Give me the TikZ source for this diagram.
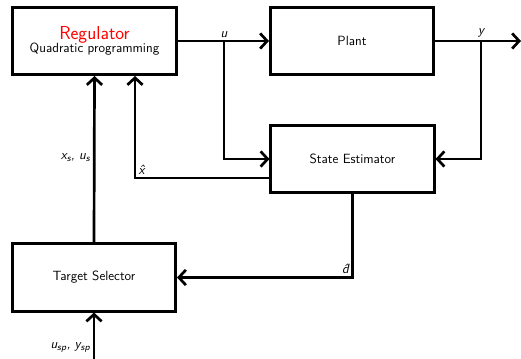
\documentclass[tikz,border=0pt]{standalone}
\usepackage{amsmath}
\usepackage{xcolor}
\usetikzlibrary{arrows.meta}
\tikzset{
  blk/.style={draw, line width=2.3pt, minimum width=4.9cm, minimum height=2.02cm, align=center, font=\sffamily\fontsize{11.4}{13}\selectfont},
  arr/.style={line width=2.3pt, -{Straight Barb[length=6pt,width=13pt,line width=2.3pt]}},
  lbl/.style={font=\sffamily\fontsize{11.4}{13}\selectfont\itshape, inner sep=3pt}
}

\begin{document}
\begin{tikzpicture}
	\useasboundingbox (0,0) rectangle (15.63,10.77);

	% blocks
	\node[blk] (reg) at (2.835,9.54) {{\fontsize{16}{18}\selectfont\color{red}Regulator}\\[-2pt]Quadratic programming};
	\node[blk] (plant) at (10.56,9.54) {Plant};
	\node[blk] (est) at (10.575,6.0) {State Estimator};
	\node[blk] (tgt) at (2.82,2.445) {Target Selector};

	% branch points
	\coordinate (ubr) at (6.72,9.54);
	\coordinate (ybr) at (14.43,9.54);
	\coordinate (yout) at (15.63,9.54);
	\coordinate (xh) at (4.05,5.43);
	\coordinate (sp) at (2.82,0);

	% signals
	\draw[arr] (reg.east) -- (plant.west);
	\draw[arr] (ubr) |- (est.west);
	\draw[arr] (plant.east) -- (yout);
	\draw[arr] (ybr) |- (est.east);
	\draw[arr] (est.west |- xh) -- (xh) -- (xh |- reg.south);
	\draw[arr] (est.south) |- (tgt.east);
	\draw[arr] (tgt.north) -- (reg.south);
	\draw[arr] (sp) -- (tgt.south);

	% labels
	\node[lbl, anchor=south] (ulbl) at (ubr) {u};
	\node[lbl, anchor=south] (ylbl) at (ybr) {y};
	\node[lbl, anchor=south west] (xhlbl) at (xh) {\^{x}};
	\node[lbl, anchor=south east] (dlbl) at (est.south |- tgt.east) {\^{d}};
	\node[lbl, anchor=east] (xslbl) at (2.82,6.03) {x\textsubscript{s}, u\textsubscript{s}};
	\node[lbl, anchor=east] (splbl) at (2.82,0.36) {u\textsubscript{sp}, y\textsubscript{sp}};

\end{tikzpicture}
\end{document}
